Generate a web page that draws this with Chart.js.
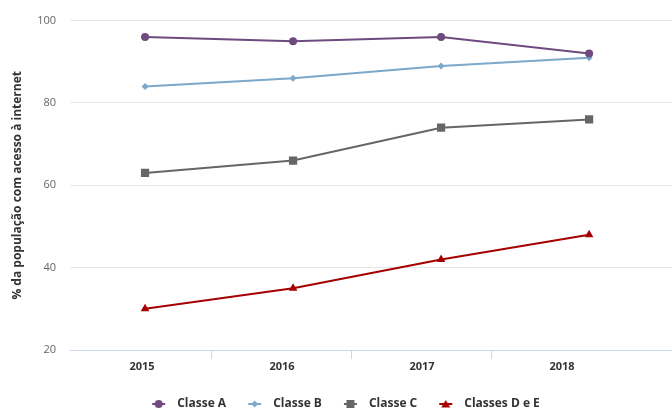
<!DOCTYPE html>
<html>
<head>
<meta charset="utf-8">
<script src="https://cdn.jsdelivr.net/npm/chart.js@4"></script>
<style>
  html, body { margin: 0; padding: 0; background: #fff; }
  #wrap { width: 672px; height: 410px; }
</style>
</head>
<body>
<div id="wrap"><canvas id="chart" width="672" height="410"></canvas></div>
<script>
// dados do grafico
const years = ['2015', '2016', '2017', '2018'];
const seriesNames = ['Classe A', 'Classe B', 'Classe C', 'Classes D e E'];
const classeA = [96, 95, 96, 92];
const classeB = [84, 86, 89, 91];
const classeC = [63, 66, 74, 76];
const classeDE = [30, 35, 42, 48];
const yTicks = [20, 40, 60, 80, 100];

const colors = ['#6e4a7e', '#7ca8c9', '#666666', '#a50000'];
const shapes = ['circle', 'rectRot', 'rect', 'triangle'];
const radii = [4, 3.5, 5.8, 5];
const allValues = [classeA, classeB, classeC, classeDE];

// pequena imagem para a legenda: linha com o marcador no meio
function legendIcon(color, shape) {
  const c = document.createElement('canvas');
  c.width = 39; c.height = 12;
  const g = c.getContext('2d');
  const x0 = 20, x1 = 33, cx = (x0 + x1) / 2, cy = 6;
  g.strokeStyle = color; g.lineWidth = 2;
  g.beginPath(); g.moveTo(x0, cy); g.lineTo(x1, cy); g.stroke();
  g.fillStyle = color;
  g.beginPath();
  if (shape === 'circle') {
    g.arc(cx, cy, 4, 0, Math.PI * 2);
  } else if (shape === 'rectRot') {
    g.moveTo(cx, cy - 3.5); g.lineTo(cx + 3.5, cy); g.lineTo(cx, cy + 3.5); g.lineTo(cx - 3.5, cy);
  } else if (shape === 'rect') {
    g.rect(cx - 4, cy - 4, 8, 8);
  } else {
    g.moveTo(cx, cy - 4); g.lineTo(cx + 4.5, cy + 3.5); g.lineTo(cx - 4.5, cy + 3.5);
  }
  g.closePath(); g.fill();
  return c;
}

const datasets = allValues.map((vals, i) => ({
  label: seriesNames[i],
  data: vals.map((v, k) => ({ x: k, y: v })),
  xAxisID: 'xd',
  borderColor: colors[i],
  backgroundColor: colors[i],
  pointBackgroundColor: colors[i],
  pointBorderColor: colors[i],
  pointBorderWidth: 0,
  borderWidth: 2,
  pointStyle: shapes[i],
  pointRadius: radii[i],
  tension: 0
}));

const icons = colors.map((c, i) => legendIcon(c, shapes[i]));

new Chart(document.getElementById('chart').getContext('2d'), {
  type: 'line',
  data: { datasets: datasets },
  options: {
    responsive: false,
    animation: false,
    layout: { autoPadding: false, padding: { top: 20, right: 0, bottom: -10, left: 0 } },
    plugins: {
      tooltip: { enabled: false },
      legend: {
        position: 'bottom',
        labels: {
          usePointStyle: true,
          pointStyleWidth: 39,
          padding: 2,
          color: '#333333',
          font: { family: 'Open Sans', size: 12, weight: 'bold' },
          generateLabels: chart => seriesNames.map((name, i) => ({
            text: name,
            fillStyle: colors[i],
            strokeStyle: colors[i],
            pointStyle: icons[i],
            fontColor: '#333333',
            lineWidth: 0,
            hidden: false,
            datasetIndex: i
          }))
        }
      }
    },
    scales: {
      // eixo escondido onde ficam os pontos
      xd: {
        type: 'linear',
        display: false,
        min: -0.507,
        max: 3.56
      },
      // eixo visivel com os anos
      x: {
        type: 'linear',
        position: 'bottom',
        min: -0.514,
        max: 3.786,
        afterBuildTicks: axis => {
          axis.ticks = [0, 0.5, 1, 1.5, 2, 2.5, 3].map(v => ({ value: v }));
        },
        afterFit: axis => {
          axis.height = 46;
          axis.paddingLeft = 0;
          axis.paddingRight = 0;
        },
        border: { display: true, color: '#ccd6eb', width: 1 },
        grid: {
          drawOnChartArea: false,
          drawTicks: true,
          tickLength: 9,
          color: ctx => (ctx.tick && Number.isInteger(ctx.tick.value)) ? 'rgba(0,0,0,0)' : '#ccd6eb'
        },
        ticks: {
          autoSkip: false,
          maxRotation: 0,
          padding: 1,
          color: '#333333',
          font: { family: 'Open Sans', size: 11, weight: 'bold' },
          callback: v => Number.isInteger(v) ? years[v] : ''
        }
      },
      y: {
        min: 20,
        max: 100,
        afterBuildTicks: axis => { axis.ticks = yTicks.map(v => ({ value: v })); },
        afterFit: axis => { axis.width = 70; },
        border: { display: false },
        grid: { color: '#e6e6e6', drawTicks: false, lineWidth: 1 },
        ticks: {
          padding: 14,
          color: '#666666',
          font: { family: 'Open Sans', size: 11 }
        },
        title: {
          display: true,
          text: '% da população com acesso à internet',
          color: '#333333',
          font: { family: 'Open Sans', size: 12, weight: 'bold' },
          padding: { top: 10, bottom: 0 }
        }
      }
    }
  }
});
</script>
</body>
</html>
